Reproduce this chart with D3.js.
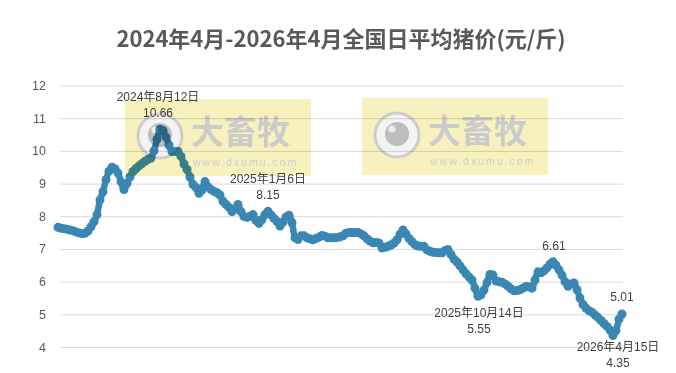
<!DOCTYPE html>
<html>
<head>
<meta charset="utf-8">
<script src="https://cdn.jsdelivr.net/npm/d3@7"></script>
<style>
  body { margin: 0; background: #fff; }
  #viz { width: 676px; height: 373px; }
  text { font-family: "Liberation Sans", "Noto Sans CJK SC", sans-serif; }
</style>
</head>
<body>
<div id="viz"></div>
<script>
// daily average pig price (yuan/jin) at even steps
const prices = [
  7.66, 7.63, 7.62, 7.60, 7.58, 7.56, 7.52, 7.49, 7.47, 7.48,
  7.55, 7.68, 7.83, 8.05, 8.50, 8.75, 9.12, 9.38, 9.50, 9.45,
  9.32, 9.05, 8.82, 9.00, 9.20, 9.37, 9.46, 9.54, 9.61, 9.68,
  9.74, 9.78, 10.00, 10.35, 10.66, 10.62, 10.42, 10.18, 9.98, 9.98,
  9.98, 9.83, 9.60, 9.43, 9.20, 8.97, 8.88, 8.70, 8.80, 9.06,
  8.90, 8.82, 8.76, 8.72, 8.65, 8.46, 8.36, 8.27, 8.14, 8.22,
  8.36, 8.14, 7.99, 7.97, 8.00, 8.05, 7.87, 7.78, 7.90, 8.05,
  8.15, 8.04, 7.93, 7.84, 7.70, 7.82, 7.98, 8.03, 7.80, 7.34,
  7.29, 7.40, 7.40, 7.34, 7.31, 7.28, 7.32, 7.36, 7.41, 7.39,
  7.34, 7.34, 7.34, 7.35, 7.37, 7.40, 7.48, 7.50, 7.50, 7.50,
  7.50, 7.46, 7.40, 7.31, 7.24, 7.19, 7.20, 7.18, 7.03, 7.05,
  7.08, 7.12, 7.18, 7.28, 7.45, 7.58, 7.46, 7.32, 7.22, 7.13,
  7.09, 7.08, 7.08, 6.97, 6.93, 6.90, 6.89, 6.88, 6.88, 6.95,
  6.98, 6.83, 6.69, 6.60, 6.48, 6.36, 6.24, 6.14, 6.05, 5.80,
  5.55, 5.60, 5.74, 5.97, 6.22, 6.20, 6.02, 6.00, 5.98, 5.93,
  5.86, 5.78, 5.72, 5.73, 5.75, 5.80, 5.85, 5.84, 5.80, 6.05,
  6.30, 6.27, 6.33, 6.42, 6.53, 6.61, 6.50, 6.36, 6.20, 6.00,
  5.86, 5.93, 5.96, 5.75, 5.50, 5.30, 5.19, 5.11, 5.06, 4.98,
  4.90, 4.81, 4.72, 4.63, 4.52, 4.35, 4.50, 4.85, 5.01
];

const yTicks = [4, 5, 6, 7, 8, 9, 10, 11, 12];

// labelled points: index into prices, date text, value text
const annIndex = [34, 70, 140, 165, 185, 188];
const annDate = ['2024年8月12日', '2025年1月6日', '2025年10月14日', '', '2026年4月15日', ''];
const annValue = ['10.66', '8.15', '5.55', '6.61', '4.35', '5.01'];

const titleText = '2024年4月-2026年4月全国日平均猪价(元/斤)';

const w = 676;
const h = 373;
const dotColor = '#3b87b4';

const svg = d3.select('#viz').
append('svg').
attr('width', w).
attr('height', h);

const xScale = d3.scaleLinear().
domain([0, prices.length - 1]).
range([58, 622]);

const yScale = d3.scaleLinear().
domain([4, 12]).
range([347, 85.5]);

// title
svg.append('text').
text(titleText).
attr('x', 341).
attr('y', 47).
attr('text-anchor', 'middle').
style('font-family', '"Noto Sans CJK SC", sans-serif').
style('font-weight', 'bold').
style('font-size', '22px').
style('fill', '#595959');

// gridlines + labels
const yAxis = d3.axisLeft(yScale).
tickValues(yTicks).
tickSize(-563).
tickPadding(14).
tickFormat(d3.format('d'));

const yg = svg.append('g').
attr('transform', 'translate(60,0)').
call(yAxis);

yg.select('.domain').remove();
yg.selectAll('.tick line').
attr('stroke', '#d9d9d9').
attr('stroke-width', 1);
yg.selectAll('.tick text').
style('font-size', '12.5px').
style('fill', '#595959');

// thick trace under the dots so the run of points reads as one band
const line = d3.line().
x((d, i) => xScale(i)).
y(d => yScale(d)).
curve(d3.curveMonotoneX);

svg.append('path').
datum(prices).
attr('d', line).
attr('fill', 'none').
attr('stroke', dotColor).
attr('stroke-width', 6.5).
attr('stroke-linejoin', 'round');

// points
svg.append('g').
selectAll('circle').
data(prices).
enter().
append('circle').
attr('cx', (d, i) => xScale(i)).
attr('cy', d => yScale(d)).
attr('r', 4.5).
attr('fill', dotColor);

// watermark boxes, blended over the plot
function watermark(x, y) {
  const g = svg.append('g').
  attr('transform', 'translate(' + x + ',' + y + ')').
  style('mix-blend-mode', 'multiply');

  g.append('rect').
  attr('width', 186).
  attr('height', 77).
  attr('fill', '#f7f1bd');

  g.append('circle').
  attr('cx', 35).
  attr('cy', 37).
  attr('r', 22).
  attr('fill', '#f3f3f3').
  attr('stroke', '#cdcdcd').
  attr('stroke-width', 3);

  g.append('circle').
  attr('cx', 35).
  attr('cy', 36).
  attr('r', 12).
  attr('fill', '#bdbdbd');

  g.append('circle').
  attr('cx', 30).
  attr('cy', 31).
  attr('r', 3.5).
  attr('fill', '#ececec');

  g.append('text').
  text('大畜牧').
  attr('x', 66).
  attr('y', 45).
  style('font-family', '"Noto Sans CJK SC", sans-serif').
  style('font-weight', 'bold').
  style('font-size', '33px').
  style('fill', '#cbcbcb');

  g.append('text').
  text('www.dxumu.com').
  attr('x', 68).
  attr('y', 67).
  style('font-size', '10.5px').
  style('letter-spacing', '2px').
  style('fill', '#cfcfcf');
}

watermark(125, 99);
watermark(362, 98);

// annotation offsets (date line, value line) relative to the point
const annLayout = [
  { dx: -2, date: -33, value: -17 },
  { dx: 0, date: -33, value: -17 },
  { dx: 1, date: 16, value: 32 },
  { dx: 1, date: 0, value: -16 },
  { dx: 5, date: 11, value: 27 },
  { dx: 0, date: 0, value: -17 }
];

const ann = svg.append('g');

annIndex.forEach(function (idx, i) {
  const px = xScale(idx) + annLayout[i].dx;
  const py = yScale(prices[idx]);
  if (annDate[i] !== '') {
    ann.append('text').
    text(annDate[i]).
    attr('x', px).
    attr('y', py + annLayout[i].date).
    attr('dy', '0.35em').
    attr('text-anchor', 'middle').
    style('font-size', '12px').
    style('fill', '#404040');
  }
  ann.append('text').
  text(annValue[i]).
  attr('x', px).
  attr('y', py + annLayout[i].value).
  attr('dy', '0.35em').
  attr('text-anchor', 'middle').
  style('font-size', '12px').
  style('fill', '#404040');
});
</script>
</body>
</html>
